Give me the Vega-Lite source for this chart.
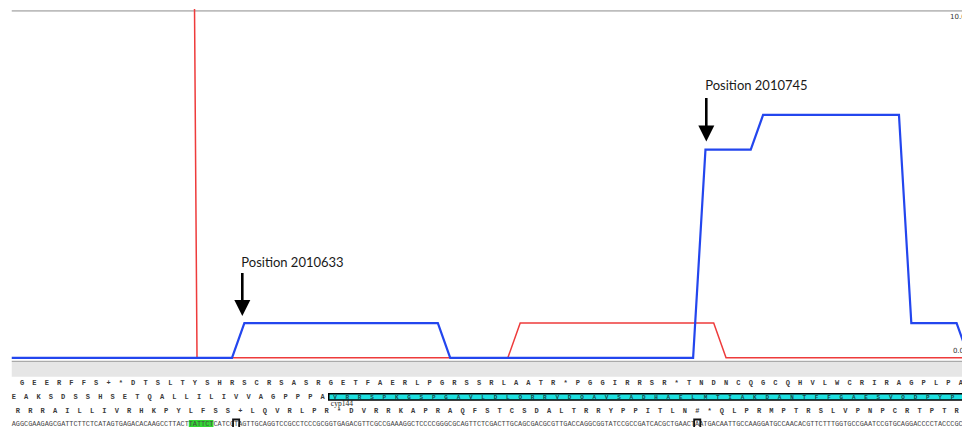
{
  "$schema": "https://vega.github.io/schema/vega-lite/v6.json",
  "width": 962,
  "height": 427,
  "autosize": {"type": "fit", "contains": "padding"},
  "padding": {"top": 9, "left": 0, "right": 0, "bottom": 0},
  "background": "white",
  "config": {"view": {"stroke": null}},
  "datasets": {
    "coverage": [
      {"series": "coverage 2", "pos": 2010578.5, "value": 50},
      {"series": "coverage 2", "pos": 2010620.5, "value": 50},
      {"series": "coverage 2", "pos": 2010623.5, "value": 0},
      {"series": "coverage 2", "pos": 2010699, "value": 0},
      {"series": "coverage 2", "pos": 2010702, "value": 1},
      {"series": "coverage 2", "pos": 2010749, "value": 1},
      {"series": "coverage 2", "pos": 2010752, "value": 0},
      {"series": "coverage 2", "pos": 2010811, "value": 0},
      {"series": "coverage 1", "pos": 2010578.5, "value": 0},
      {"series": "coverage 1", "pos": 2010632, "value": 0},
      {"series": "coverage 1", "pos": 2010635, "value": 1},
      {"series": "coverage 1", "pos": 2010682, "value": 1},
      {"series": "coverage 1", "pos": 2010685, "value": 0},
      {"series": "coverage 1", "pos": 2010744, "value": 0},
      {"series": "coverage 1", "pos": 2010747, "value": 6},
      {"series": "coverage 1", "pos": 2010758, "value": 6},
      {"series": "coverage 1", "pos": 2010761, "value": 7},
      {"series": "coverage 1", "pos": 2010794, "value": 7},
      {"series": "coverage 1", "pos": 2010797, "value": 1},
      {"series": "coverage 1", "pos": 2010808, "value": 1},
      {"series": "coverage 1", "pos": 2010811, "value": 0}
    ],
    "annotations": [
      {"pos": 2010634.5, "label": "Position 2010633", "text_y": 2.631, "shaft_top": 2.444, "shaft_bottom": 1.666, "head_y": 1.435},
      {"pos": 2010747.2, "label": "Position 2010745", "text_y": 7.718, "shaft_top": 7.487, "shaft_bottom": 6.651, "head_y": 6.464}
    ],
    "frame1": [
      {"pos": 2010581, "aa": "G"}, {"pos": 2010584, "aa": "E"}, {"pos": 2010587, "aa": "E"}, {"pos": 2010590, "aa": "R"}, {"pos": 2010593, "aa": "F"}, {"pos": 2010596, "aa": "F"}, {"pos": 2010599, "aa": "S"}, {"pos": 2010602, "aa": "+"}, {"pos": 2010605, "aa": "*"}, {"pos": 2010608, "aa": "D"},
      {"pos": 2010611, "aa": "T"}, {"pos": 2010614, "aa": "S"}, {"pos": 2010617, "aa": "L"}, {"pos": 2010620, "aa": "T"}, {"pos": 2010623, "aa": "Y"}, {"pos": 2010626, "aa": "S"}, {"pos": 2010629, "aa": "H"}, {"pos": 2010632, "aa": "R"}, {"pos": 2010635, "aa": "S"}, {"pos": 2010638, "aa": "C"},
      {"pos": 2010641, "aa": "R"}, {"pos": 2010644, "aa": "S"}, {"pos": 2010647, "aa": "A"}, {"pos": 2010650, "aa": "S"}, {"pos": 2010653, "aa": "R"}, {"pos": 2010656, "aa": "G"}, {"pos": 2010659, "aa": "E"}, {"pos": 2010662, "aa": "T"}, {"pos": 2010665, "aa": "F"}, {"pos": 2010668, "aa": "A"},
      {"pos": 2010671, "aa": "E"}, {"pos": 2010674, "aa": "R"}, {"pos": 2010677, "aa": "L"}, {"pos": 2010680, "aa": "P"}, {"pos": 2010683, "aa": "G"}, {"pos": 2010686, "aa": "R"}, {"pos": 2010689, "aa": "S"}, {"pos": 2010692, "aa": "S"}, {"pos": 2010695, "aa": "R"}, {"pos": 2010698, "aa": "L"},
      {"pos": 2010701, "aa": "A"}, {"pos": 2010704, "aa": "A"}, {"pos": 2010707, "aa": "T"}, {"pos": 2010710, "aa": "R"}, {"pos": 2010713, "aa": "*"}, {"pos": 2010716, "aa": "P"}, {"pos": 2010719, "aa": "G"}, {"pos": 2010722, "aa": "G"}, {"pos": 2010725, "aa": "I"}, {"pos": 2010728, "aa": "R"},
      {"pos": 2010731, "aa": "R"}, {"pos": 2010734, "aa": "S"}, {"pos": 2010737, "aa": "R"}, {"pos": 2010740, "aa": "*"}, {"pos": 2010743, "aa": "T"}, {"pos": 2010746, "aa": "N"}, {"pos": 2010749, "aa": "D"}, {"pos": 2010752, "aa": "N"}, {"pos": 2010755, "aa": "C"}, {"pos": 2010758, "aa": "Q"},
      {"pos": 2010761, "aa": "G"}, {"pos": 2010764, "aa": "C"}, {"pos": 2010767, "aa": "Q"}, {"pos": 2010770, "aa": "H"}, {"pos": 2010773, "aa": "V"}, {"pos": 2010776, "aa": "L"}, {"pos": 2010779, "aa": "W"}, {"pos": 2010782, "aa": "C"}, {"pos": 2010785, "aa": "R"}, {"pos": 2010788, "aa": "I"},
      {"pos": 2010791, "aa": "R"}, {"pos": 2010794, "aa": "A"}, {"pos": 2010797, "aa": "G"}, {"pos": 2010800, "aa": "P"}, {"pos": 2010803, "aa": "L"}, {"pos": 2010806, "aa": "P"}, {"pos": 2010809, "aa": "A"}
    ],
    "frame2": [
      {"pos": 2010579, "aa": "E"}, {"pos": 2010582, "aa": "A"}, {"pos": 2010585, "aa": "K"}, {"pos": 2010588, "aa": "S"}, {"pos": 2010591, "aa": "D"}, {"pos": 2010594, "aa": "S"}, {"pos": 2010597, "aa": "S"}, {"pos": 2010600, "aa": "H"}, {"pos": 2010603, "aa": "S"}, {"pos": 2010606, "aa": "E"},
      {"pos": 2010609, "aa": "T"}, {"pos": 2010612, "aa": "Q"}, {"pos": 2010615, "aa": "A"}, {"pos": 2010618, "aa": "L"}, {"pos": 2010621, "aa": "L"}, {"pos": 2010624, "aa": "I"}, {"pos": 2010627, "aa": "L"}, {"pos": 2010630, "aa": "I"}, {"pos": 2010633, "aa": "V"}, {"pos": 2010636, "aa": "V"},
      {"pos": 2010639, "aa": "A"}, {"pos": 2010642, "aa": "G"}, {"pos": 2010645, "aa": "P"}, {"pos": 2010648, "aa": "P"}, {"pos": 2010651, "aa": "P"}, {"pos": 2010654, "aa": "A"}
    ],
    "cds": [
      {"pos": 2010657, "aa": "V"}, {"pos": 2010660, "aa": "R"}, {"pos": 2010663, "aa": "R"}, {"pos": 2010666, "aa": "S"}, {"pos": 2010669, "aa": "P"}, {"pos": 2010672, "aa": "K"}, {"pos": 2010675, "aa": "G"}, {"pos": 2010678, "aa": "S"}, {"pos": 2010681, "aa": "P"}, {"pos": 2010684, "aa": "G"},
      {"pos": 2010687, "aa": "A"}, {"pos": 2010690, "aa": "V"}, {"pos": 2010693, "aa": "L"}, {"pos": 2010696, "aa": "D"}, {"pos": 2010699, "aa": "L"}, {"pos": 2010702, "aa": "Q"}, {"pos": 2010705, "aa": "R"}, {"pos": 2010708, "aa": "R"}, {"pos": 2010711, "aa": "V"}, {"pos": 2010714, "aa": "D"},
      {"pos": 2010717, "aa": "Q"}, {"pos": 2010720, "aa": "A"}, {"pos": 2010723, "aa": "V"}, {"pos": 2010726, "aa": "S"}, {"pos": 2010729, "aa": "A"}, {"pos": 2010732, "aa": "D"}, {"pos": 2010735, "aa": "H"}, {"pos": 2010738, "aa": "A"}, {"pos": 2010741, "aa": "E"}, {"pos": 2010744, "aa": "L"},
      {"pos": 2010747, "aa": "M"}, {"pos": 2010750, "aa": "T"}, {"pos": 2010753, "aa": "I"}, {"pos": 2010756, "aa": "A"}, {"pos": 2010759, "aa": "K"}, {"pos": 2010762, "aa": "D"}, {"pos": 2010765, "aa": "A"}, {"pos": 2010768, "aa": "N"}, {"pos": 2010771, "aa": "T"}, {"pos": 2010774, "aa": "F"},
      {"pos": 2010777, "aa": "F"}, {"pos": 2010780, "aa": "G"}, {"pos": 2010783, "aa": "A"}, {"pos": 2010786, "aa": "E"}, {"pos": 2010789, "aa": "S"}, {"pos": 2010792, "aa": "V"}, {"pos": 2010795, "aa": "Q"}, {"pos": 2010798, "aa": "D"}, {"pos": 2010801, "aa": "P"}, {"pos": 2010804, "aa": "Y"},
      {"pos": 2010807, "aa": "P"}
    ],
    "frame0": [
      {"pos": 2010580, "aa": "R"}, {"pos": 2010583, "aa": "R"}, {"pos": 2010586, "aa": "R"}, {"pos": 2010589, "aa": "A"}, {"pos": 2010592, "aa": "I"}, {"pos": 2010595, "aa": "L"}, {"pos": 2010598, "aa": "L"}, {"pos": 2010601, "aa": "I"}, {"pos": 2010604, "aa": "V"}, {"pos": 2010607, "aa": "R"},
      {"pos": 2010610, "aa": "H"}, {"pos": 2010613, "aa": "K"}, {"pos": 2010616, "aa": "P"}, {"pos": 2010619, "aa": "Y"}, {"pos": 2010622, "aa": "L"}, {"pos": 2010625, "aa": "F"}, {"pos": 2010628, "aa": "S"}, {"pos": 2010631, "aa": "S"}, {"pos": 2010634, "aa": "+"}, {"pos": 2010637, "aa": "L"},
      {"pos": 2010640, "aa": "Q"}, {"pos": 2010643, "aa": "V"}, {"pos": 2010646, "aa": "R"}, {"pos": 2010649, "aa": "L"}, {"pos": 2010652, "aa": "P"}, {"pos": 2010655, "aa": "R"}, {"pos": 2010658, "aa": "*"}, {"pos": 2010661, "aa": "D"}, {"pos": 2010664, "aa": "V"}, {"pos": 2010667, "aa": "R"},
      {"pos": 2010670, "aa": "R"}, {"pos": 2010673, "aa": "K"}, {"pos": 2010676, "aa": "A"}, {"pos": 2010679, "aa": "P"}, {"pos": 2010682, "aa": "R"}, {"pos": 2010685, "aa": "A"}, {"pos": 2010688, "aa": "Q"}, {"pos": 2010691, "aa": "F"}, {"pos": 2010694, "aa": "S"}, {"pos": 2010697, "aa": "T"},
      {"pos": 2010700, "aa": "C"}, {"pos": 2010703, "aa": "S"}, {"pos": 2010706, "aa": "D"}, {"pos": 2010709, "aa": "A"}, {"pos": 2010712, "aa": "L"}, {"pos": 2010715, "aa": "T"}, {"pos": 2010718, "aa": "R"}, {"pos": 2010721, "aa": "R"}, {"pos": 2010724, "aa": "Y"}, {"pos": 2010727, "aa": "P"},
      {"pos": 2010730, "aa": "P"}, {"pos": 2010733, "aa": "I"}, {"pos": 2010736, "aa": "T"}, {"pos": 2010739, "aa": "L"}, {"pos": 2010742, "aa": "N"}, {"pos": 2010745, "aa": "#"}, {"pos": 2010748, "aa": "*"}, {"pos": 2010751, "aa": "Q"}, {"pos": 2010754, "aa": "L"}, {"pos": 2010757, "aa": "P"},
      {"pos": 2010760, "aa": "R"}, {"pos": 2010763, "aa": "M"}, {"pos": 2010766, "aa": "P"}, {"pos": 2010769, "aa": "T"}, {"pos": 2010772, "aa": "R"}, {"pos": 2010775, "aa": "S"}, {"pos": 2010778, "aa": "L"}, {"pos": 2010781, "aa": "V"}, {"pos": 2010784, "aa": "P"}, {"pos": 2010787, "aa": "N"},
      {"pos": 2010790, "aa": "P"}, {"pos": 2010793, "aa": "C"}, {"pos": 2010796, "aa": "R"}, {"pos": 2010799, "aa": "T"}, {"pos": 2010802, "aa": "P"}, {"pos": 2010805, "aa": "T"}, {"pos": 2010808, "aa": "R"}
    ]
  },
  "layer": [
    {
      "data": {"values": [{"start": 2010578.5, "end": 2010815}]},
      "mark": {"type": "rect", "color": "#e6e6e6", "clip": true},
      "encoding": {
        "x": {"field": "start", "type": "quantitative", "scale": {"domain": [2010575.648, 2010809.31], "nice": false, "zero": false}, "axis": null},
        "x2": {"field": "end"},
        "y": {"datum": -0.121, "type": "quantitative", "scale": {"domain": [-1.994, 10.052], "nice": false, "zero": false}, "axis": null},
        "y2": {"datum": -0.545}
      }
    },
    {
      "data": {"values": [{"start": 2010578.5, "end": 2010815}]},
      "mark": {"type": "rule", "color": "#aaaaaa", "strokeWidth": 1.3, "clip": true},
      "encoding": {
        "x": {"field": "start", "type": "quantitative", "scale": {"domain": [2010575.648, 2010809.31], "nice": false, "zero": false}, "axis": null},
        "x2": {"field": "end"},
        "y": {"datum": -0.1, "type": "quantitative", "scale": {"domain": [-1.994, 10.052], "nice": false, "zero": false}, "axis": null}
      }
    },
    {
      "data": {"values": [{"start": 2010578.5, "end": 2010815, "value": 10}]},
      "mark": {"type": "rule", "color": "#bdbdbd", "strokeWidth": 1.8, "clip": true},
      "encoding": {
        "x": {"field": "start", "type": "quantitative", "scale": {"domain": [2010575.648, 2010809.31], "nice": false, "zero": false}, "axis": null},
        "x2": {"field": "end"},
        "y": {"field": "value", "type": "quantitative", "scale": {"domain": [-1.994, 10.052], "nice": false, "zero": false}, "axis": null}
      }
    },
    {
      "data": {"name": "coverage"},
      "transform": [{"filter": "datum.series === 'coverage 2'"}],
      "mark": {"type": "line", "color": "#ee3b3b", "strokeWidth": 1.5, "clip": true},
      "encoding": {
        "x": {"field": "pos", "type": "quantitative", "scale": {"domain": [2010575.648, 2010809.31], "nice": false, "zero": false}, "axis": null},
        "y": {"field": "value", "type": "quantitative", "scale": {"domain": [-1.994, 10.052], "nice": false, "zero": false}, "axis": null}
      }
    },
    {
      "data": {"name": "coverage"},
      "transform": [{"filter": "datum.series === 'coverage 1'"}],
      "mark": {"type": "line", "color": "#2346ee", "strokeWidth": 2.2, "clip": true},
      "encoding": {
        "x": {"field": "pos", "type": "quantitative", "scale": {"domain": [2010575.648, 2010809.31], "nice": false, "zero": false}, "axis": null},
        "y": {"field": "value", "type": "quantitative", "scale": {"domain": [-1.994, 10.052], "nice": false, "zero": false}, "axis": null}
      }
    },
    {
      "data": {"values": [{"pos": 2010806.4, "value": 10, "label": "10.0"}]},
      "mark": {"type": "text", "align": "left", "baseline": "top", "dy": 2, "fontSize": 7, "font": "DejaVu Sans", "color": "#333333", "clip": true},
      "encoding": {
        "x": {"field": "pos", "type": "quantitative", "scale": {"domain": [2010575.648, 2010809.31], "nice": false, "zero": false}, "axis": null},
        "y": {"field": "value", "type": "quantitative", "scale": {"domain": [-1.994, 10.052], "nice": false, "zero": false}, "axis": null},
        "text": {"field": "label"}
      }
    },
    {
      "data": {"values": [{"pos": 2010807.1, "value": 0, "label": "0.0"}]},
      "mark": {"type": "text", "align": "left", "baseline": "bottom", "dy": -3.5, "fontSize": 7, "font": "DejaVu Sans", "color": "#333333", "clip": true},
      "encoding": {
        "x": {"field": "pos", "type": "quantitative", "scale": {"domain": [2010575.648, 2010809.31], "nice": false, "zero": false}, "axis": null},
        "y": {"field": "value", "type": "quantitative", "scale": {"domain": [-1.994, 10.052], "nice": false, "zero": false}, "axis": null},
        "text": {"field": "label"}
      }
    },
    {
      "data": {"name": "annotations"},
      "mark": {"type": "text", "align": "left", "baseline": "alphabetic", "dx": -1, "fontSize": 13, "font": "Lato", "color": "#1a1a1a"},
      "encoding": {
        "x": {"field": "pos", "type": "quantitative", "scale": {"domain": [2010575.648, 2010809.31], "nice": false, "zero": false}, "axis": null},
        "y": {"field": "text_y", "type": "quantitative", "scale": {"domain": [-1.994, 10.052], "nice": false, "zero": false}, "axis": null},
        "text": {"field": "label"}
      }
    },
    {
      "data": {"name": "annotations"},
      "mark": {"type": "rule", "color": "#000000", "strokeWidth": 2.6},
      "encoding": {
        "x": {"field": "pos", "type": "quantitative", "scale": {"domain": [2010575.648, 2010809.31], "nice": false, "zero": false}, "axis": null},
        "y": {"field": "shaft_top", "type": "quantitative", "scale": {"domain": [-1.994, 10.052], "nice": false, "zero": false}, "axis": null},
        "y2": {"field": "shaft_bottom"}
      }
    },
    {
      "data": {"name": "annotations"},
      "mark": {"type": "point", "shape": "M-1,-1L1,-1L0,1Z", "size": 256, "filled": true, "color": "#000000", "opacity": 1, "strokeWidth": 0},
      "encoding": {
        "x": {"field": "pos", "type": "quantitative", "scale": {"domain": [2010575.648, 2010809.31], "nice": false, "zero": false}, "axis": null},
        "y": {"field": "head_y", "type": "quantitative", "scale": {"domain": [-1.994, 10.052], "nice": false, "zero": false}, "axis": null}
      }
    },
    {
      "data": {"values": [{"start": 2010621.5, "end": 2010627.5}]},
      "mark": {"type": "rect", "color": "#33d633", "clip": true},
      "encoding": {
        "x": {"field": "start", "type": "quantitative", "scale": {"domain": [2010575.648, 2010809.31], "nice": false, "zero": false}, "axis": null},
        "x2": {"field": "end"},
        "y": {"datum": -1.793, "type": "quantitative", "scale": {"domain": [-1.994, 10.052], "nice": false, "zero": false}, "axis": null},
        "y2": {"datum": -1.994}
      }
    },
    {
      "data": {"values": [{"pos": 2010578.5, "seq": "AGGCGAAGAGCGATTCTTCTCATAGTGAGACACAAGCCTTACTTATTCTCATCGTAGTTGCAGGTCCGCCTCCCGCGGTGAGACGTTCGCCGAAAGGCTCCCCGGGCGCAGTTCTCGACTTGCAGCGACGCGTTGACCAGGCGGTATCCGCCGATCACGCTGAACTAATGACAATTGCCAAGGATGCCAACACGTTCTTTGGTGCCGAATCCGTGCAGGACCCCTACCCGC"}]},
      "mark": {"type": "text", "align": "left", "baseline": "middle", "fontSize": 6.862, "font": "Liberation Mono", "color": "#444444", "clip": true},
      "encoding": {
        "x": {"field": "pos", "type": "quantitative", "scale": {"domain": [2010575.648, 2010809.31], "nice": false, "zero": false}, "axis": null},
        "y": {"datum": -1.902, "type": "quantitative", "scale": {"domain": [-1.994, 10.052], "nice": false, "zero": false}, "axis": null},
        "text": {"field": "seq"}
      }
    },
    {
      "data": {"values": [{"start": 2010632.25, "end": 2010633.75}, {"start": 2010744.25, "end": 2010745.75}]},
      "mark": {"type": "rect", "fillOpacity": 0, "stroke": "#111111", "strokeWidth": 1.8, "clip": true},
      "encoding": {
        "x": {"field": "start", "type": "quantitative", "scale": {"domain": [2010575.648, 2010809.31], "nice": false, "zero": false}, "axis": null},
        "x2": {"field": "end"},
        "y": {"datum": -1.778, "type": "quantitative", "scale": {"domain": [-1.994, 10.052], "nice": false, "zero": false}, "axis": null},
        "y2": {"datum": -2.2}
      }
    },
    {
      "data": {"name": "frame1"},
      "mark": {"type": "text", "align": "center", "baseline": "middle", "fontSize": 7, "fontWeight": "bold", "font": "Liberation Mono", "color": "#3a3a3a", "clip": true},
      "encoding": {
        "x": {"field": "pos", "type": "quantitative", "scale": {"domain": [2010575.648, 2010809.31], "nice": false, "zero": false}, "axis": null},
        "y": {"datum": -0.726, "type": "quantitative", "scale": {"domain": [-1.994, 10.052], "nice": false, "zero": false}, "axis": null},
        "text": {"field": "aa"}
      }
    },
    {
      "data": {"values": [{"start": 2010655.5, "end": 2010815, "gene": "cyp144"}]},
      "mark": {"type": "rect", "fill": "#1ee1e1", "stroke": "#000000", "strokeWidth": 1.5, "clip": true},
      "encoding": {
        "x": {"field": "start", "type": "quantitative", "scale": {"domain": [2010575.648, 2010809.31], "nice": false, "zero": false}, "axis": null},
        "x2": {"field": "end"},
        "y": {"datum": -1.038, "type": "quantitative", "scale": {"domain": [-1.994, 10.052], "nice": false, "zero": false}, "axis": null},
        "y2": {"datum": -1.216}
      }
    },
    {
      "data": {"name": "frame2"},
      "mark": {"type": "text", "align": "center", "baseline": "middle", "fontSize": 7, "fontWeight": "bold", "font": "Liberation Mono", "color": "#3a3a3a", "clip": true},
      "encoding": {
        "x": {"field": "pos", "type": "quantitative", "scale": {"domain": [2010575.648, 2010809.31], "nice": false, "zero": false}, "axis": null},
        "y": {"datum": -1.133, "type": "quantitative", "scale": {"domain": [-1.994, 10.052], "nice": false, "zero": false}, "axis": null},
        "text": {"field": "aa"}
      }
    },
    {
      "data": {"name": "cds"},
      "mark": {"type": "text", "align": "center", "baseline": "middle", "fontSize": 6, "fontWeight": "bold", "font": "Liberation Mono", "color": "#1d4a4a", "clip": true},
      "encoding": {
        "x": {"field": "pos", "type": "quantitative", "scale": {"domain": [2010575.648, 2010809.31], "nice": false, "zero": false}, "axis": null},
        "y": {"datum": -1.127, "type": "quantitative", "scale": {"domain": [-1.994, 10.052], "nice": false, "zero": false}, "axis": null},
        "text": {"field": "aa"}
      }
    },
    {
      "data": {"name": "frame0"},
      "mark": {"type": "text", "align": "center", "baseline": "middle", "fontSize": 7, "fontWeight": "bold", "font": "Liberation Mono", "color": "#3a3a3a", "clip": true},
      "encoding": {
        "x": {"field": "pos", "type": "quantitative", "scale": {"domain": [2010575.648, 2010809.31], "nice": false, "zero": false}, "axis": null},
        "y": {"datum": -1.537, "type": "quantitative", "scale": {"domain": [-1.994, 10.052], "nice": false, "zero": false}, "axis": null},
        "text": {"field": "aa"}
      }
    },
    {
      "data": {"values": [{"pos": 2010656, "gene": "cyp144"}]},
      "mark": {"type": "text", "align": "left", "baseline": "alphabetic", "fontSize": 7.5, "font": "Liberation Serif", "color": "#222222"},
      "encoding": {
        "x": {"field": "pos", "type": "quantitative", "scale": {"domain": [2010575.648, 2010809.31], "nice": false, "zero": false}, "axis": null},
        "y": {"datum": -1.375, "type": "quantitative", "scale": {"domain": [-1.994, 10.052], "nice": false, "zero": false}, "axis": null},
        "text": {"field": "gene"}
      }
    }
  ]
}
